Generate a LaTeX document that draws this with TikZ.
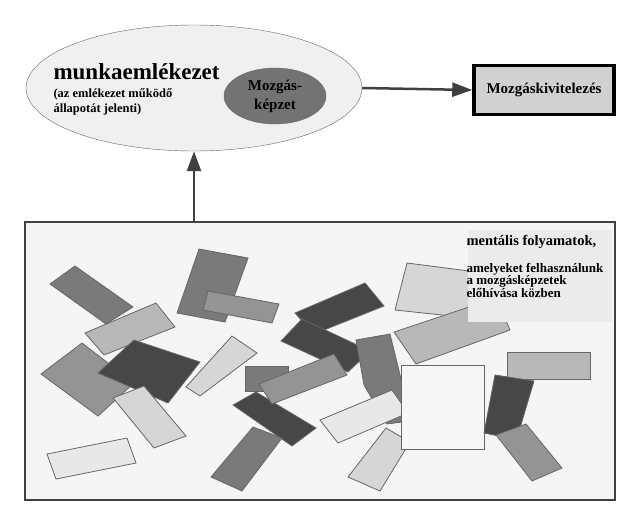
\documentclass[tikz,border=0pt]{standalone}
\usepackage{fontspec}
\setmainfont{Liberation Serif}
\usetikzlibrary{arrows.meta,shapes,positioning,calc}

\tikzset{
  pad/.style={draw=black!60,line width=0.8pt},
  dk/.style={pad,fill=black!72},
  md/.style={pad,fill=black!52},
  mg/.style={pad,fill=black!42},
  lm/.style={pad,fill=black!28},
  lt/.style={pad,fill=black!16},
  dt/.style={pad,fill=black!9},
  flow/.style={line width=2.5pt,draw=black!75,-{Triangle[length=20pt,width=14pt]}}
}

\begin{document}
\begin{tikzpicture}[x=1pt,y=-1pt,font=\bfseries]
  \useasboundingbox (0,0) rectangle (643,515);

  %% upper part
  \node [ellipse,draw=black!60,fill=black!6,minimum width=336pt,minimum height=126pt] (memory) at (194,88) {};
  \node [ellipse,draw=black!60,fill=black!55,minimum width=102pt,minimum height=56pt,align=center,font=\bfseries\fontsize{15}{19}\selectfont] (image) at (275,96) {Mozgás-\\képzet};
  \node [anchor=west,font=\bfseries\fontsize{23}{25}\selectfont] (title) at (50,72) {munkaemlékezet};
  \node [anchor=north west,align=left,font=\bfseries\fontsize{12.5}{15}\selectfont] (sub) at (50,85) {(az emlékezet működő\\állapotát jelenti)};
  \node [draw=black,line width=3.5pt,fill=black!18,minimum width=140pt,minimum height=49pt,font=\bfseries\fontsize{15}{17}\selectfont] (action) at (544,90) {Mozgáskivitelezés};

  %% lower part
  \node [draw=black!75,line width=1.2pt,fill=black!4,minimum width=590pt,minimum height=278pt] (mind) at (320,361) {};

  \draw [md] (50,284)--(75,266)--(133,307)--(106,324)--cycle;
  \draw [md] (199,249)--(248,258)--(225,322)--(177,313)--cycle;
  \draw [mg] (208,291)--(279,304)--(272,323)--(203,310)--cycle;
  \draw [lm] (85,333)--(156,303)--(175,327)--(104,355)--cycle;
  \draw [mg] (41,374)--(82,343)--(134,383)--(98,416)--cycle;
  \draw [dk] (98,373)--(134,340)--(200,362)--(168,403)--cycle;
  \draw [lt] (186,387)--(232,336)--(257,353)--(200,396)--cycle;
  \draw [lt] (113,398)--(144,386)--(186,436)--(154,448)--cycle;
  \draw [dt] (47,454)--(127,438)--(136,463)--(56,479)--cycle;
  \draw [dk] (295,313)--(365,283)--(384,306)--(314,334)--cycle;
  \draw [dk] (281,341)--(302,319)--(370,351)--(348,372)--cycle;
  \draw [md] (356,340)--(390,334)--(402,383)--(402,422)--(387,424)--(364,385)--cycle;
  \draw [md] (245,366) rectangle (288,391);
  \draw [dk] (233,405)--(256,392)--(316,428)--(292,446)--cycle;
  \draw [mg] (259,384)--(334,354)--(347,375)--(272,404)--cycle;
  \draw [md] (211,477)--(253,427)--(282,438)--(242,491)--cycle;
  \draw [lt] (407,263)--(477,272)--(470,318)--(395,310)--cycle;
  \draw [lm] (394,332)--(496,298)--(510,330)--(416,364)--cycle;
  \draw [dt] (320,420)--(392,390)--(408,413)--(338,443)--cycle;
  \draw [lt] (348,477)--(386,428)--(410,442)--(380,491)--cycle;
  \draw [pad,fill=black!3] (401,365) rectangle (484,449);
  \draw [lm] (507,352) rectangle (590,379);
  \draw [dk] (495,375)--(534,381)--(520,428)--(499,436)--(484,433)--cycle;
  \draw [mg] (496,435)--(526,424)--(562,468)--(532,481)--cycle;

  \node [fill=black!8,minimum width=144pt,minimum height=92pt] (note) at (540,276) {};
  \node [anchor=north west,font=\bfseries\fontsize{14.5}{17}\selectfont] (notehead) at (463,232) {mentális folyamatok,};
  \node [anchor=north west,align=left] (notetext) at (463,260) {\fontsize{13}{15}\selectfont amelyeket felhasználunk\\\fontsize{13}{15}\selectfont a mozgásképzetek\\\fontsize{13}{15}\selectfont előhívása közben};

  %% arrows
  \draw [flow] (memory.east) -- (action.west);
  \draw [flow] (mind.north -| memory.south) -- (memory.south);
\end{tikzpicture}
\end{document}
